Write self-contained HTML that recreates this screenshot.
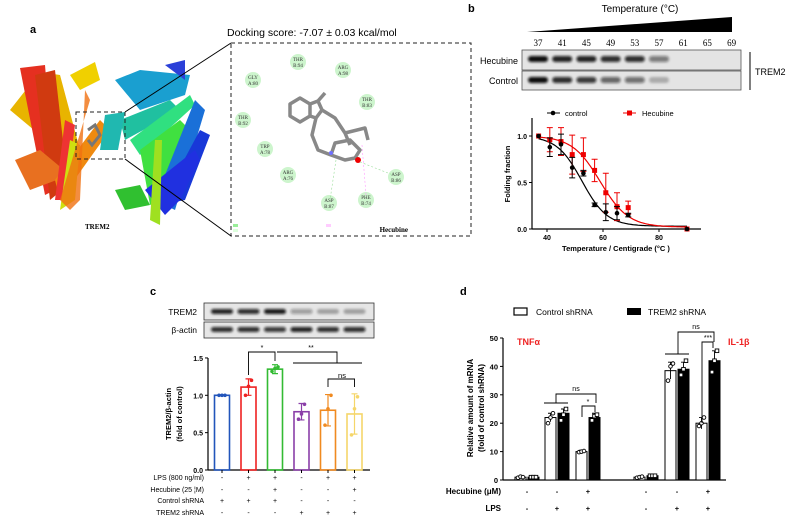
<!DOCTYPE html>
<html><head><meta charset="utf-8"><style>
body{margin:0;background:#fff;width:798px;height:519px;overflow:hidden;font-family:"Liberation Sans",sans-serif}
svg{display:block}
</style></head><body>
<svg id="fig" width="798" height="519" viewBox="0 0 798 519" font-family="Liberation Sans, sans-serif">
<defs>
<filter id="blur"><feGaussianBlur stdDeviation="1.2"/></filter>
</defs>
<g>
<text x="30" y="33" font-size="11" font-weight="bold">a</text>
<g stroke-linejoin="round">
<path d="M10 110 L40 72 L60 75 L80 150 L70 160 Z" fill="#e8b400"/>
<path d="M20 68 L45 65 L55 190 L45 195 Z" fill="#e53020"/>
<path d="M35 75 L55 70 L68 185 L50 200 Z" fill="#d03a10"/>
<path d="M15 160 L40 150 L70 175 L30 190 Z" fill="#e87020"/>
<path d="M55 180 L100 120 L110 130 L60 200 Z" fill="#ef8a10"/>
<path d="M70 75 L95 62 L100 80 L80 90 Z" fill="#f0d000"/>
<path d="M55 200 L65 120 L75 125 L65 200 Z" fill="#e33"/>
<path d="M60 210 L70 140 L80 145 L75 200 Z" fill="#cfe010"/>
<path d="M90 100 L85 90 L80 200 L70 210 L60 200 Z" fill="#f07010" opacity="0.8"/>
<path d="M115 80 L140 70 L190 75 L185 95 L140 110 Z" fill="#1a9fd0"/>
<path d="M120 120 L170 100 L180 110 L125 140 Z" fill="#20c0a0"/>
<path d="M130 140 L190 95 L195 105 L140 155 Z" fill="#30e080"/>
<path d="M140 150 L180 120 L190 130 L160 200 L150 205 Z" fill="#40e040"/>
<path d="M155 200 L195 100 L205 110 L175 210 Z" fill="#1a70d8"/>
<path d="M160 205 L200 130 L210 135 L185 200 Z" fill="#1838d8"/>
<path d="M115 190 L140 185 L150 205 L125 210 Z" fill="#30c030"/>
<path d="M145 190 L165 215 L180 200 L200 160 L195 150 Z" fill="#2030e0"/>
<path d="M150 220 L155 140 L162 140 L160 225 Z" fill="#9fe020"/>
<path d="M105 115 L125 112 L118 150 L100 150 Z" fill="#20b8b0"/>
<path d="M165 65 L185 60 L185 80 Z" fill="#2b40d8"/>
</g>
<g fill="none" stroke="#777" stroke-width="3"><path d="M88 130 L95 125 L100 135 L92 145 L88 140"/></g>
<rect x="76" y="112" width="49" height="47" fill="none" stroke="#222" stroke-dasharray="4,3"/>
<line x1="125" y1="112" x2="231" y2="43" stroke="#000"/>
<line x1="125" y1="159" x2="231" y2="236" stroke="#000"/>
<text x="85" y="229" font-size="7" font-family="Liberation Serif, serif" font-weight="bold">TREM2</text>
<text x="227" y="36" font-size="10.5">Docking score: -7.07 ± 0.03 kcal/mol</text>
<rect x="231" y="43" width="240" height="193" fill="none" stroke="#222" stroke-dasharray="4,3"/>
<g id="residues" font-family="Liberation Serif, serif" font-size="5" fill="#333" text-anchor="middle"></g>
<g fill="none" stroke="#888" stroke-width="3.5" stroke-linejoin="round">
<path d="M290 104 L300 98 L310 104 L310 116 L300 122 L290 116 Z"/>
<path d="M310 104 L318 101 L322 110 L316 118 L310 116"/>
<path d="M318 101 L325 93"/>
<path d="M322 110 L335 118 L345 133 L350 145"/>
<path d="M316 118 L312 135 L318 150 L331 155 L345 160 L355 158 L360 150 L350 140 L335 143 L331 155"/>
<path d="M345 133 L365 128 L368 140"/>
</g>
<circle cx="331" cy="153" r="2" fill="#7070ff"/>
<circle cx="358" cy="160" r="3" fill="#e00"/>
<g stroke-dasharray="2,2" stroke-width="0.6"><line x1="336" y1="160" x2="330" y2="200" stroke="#9d9"/><line x1="362" y1="145" x2="366" y2="195" stroke="#f9f"/><line x1="360" y1="162" x2="393" y2="175" stroke="#9d9"/></g>
<text x="408" y="232" font-size="7" font-family="Liberation Serif, serif" font-weight="bold" text-anchor="end">Hecubine</text>
<rect x="233" y="224" width="5" height="3" fill="#9e9"/><rect x="233" y="229" width="5" height="3" fill="#dfd"/><rect x="326" y="224" width="5" height="3" fill="#fcf"/>
</g>

<g>
<text x="468" y="12" font-size="11" font-weight="bold">b</text>
<text x="640" y="12" font-size="10" text-anchor="middle">Temperature (°C)</text>
<polygon points="527,32 732,17 732,32" fill="#000"/>
<g id="tempLabels" font-family="Liberation Serif, serif" font-size="9" text-anchor="middle"></g>
<rect x="522" y="50" width="219" height="20" fill="#e4e4e4" stroke="#555" stroke-width="0.8"/>
<rect x="522" y="71" width="219" height="19" fill="#e4e4e4" stroke="#555" stroke-width="0.8"/>
<g id="cetsaBands" filter="url(#blur)"></g>
<text x="518" y="64" font-size="9" text-anchor="end">Hecubine</text>
<text x="518" y="84" font-size="9" text-anchor="end">Control</text>
<line x1="750" y1="52" x2="750" y2="90" stroke="#000"/>
<text x="755" y="75" font-size="9">TREM2</text>
<g id="chartB"></g>
</g>

<g>
<text x="150" y="295" font-size="11" font-weight="bold">c</text>
<rect x="204" y="303" width="170" height="17" fill="#e6e6e6" stroke="#333" stroke-width="0.8"/>
<rect x="204" y="322" width="170" height="16" fill="#e6e6e6" stroke="#333" stroke-width="0.8"/>
<g id="cBands" filter="url(#blur)"></g>
<text x="197" y="315" font-size="8.5" text-anchor="end">TREM2</text>
<text x="197" y="333" font-size="8.5" text-anchor="end">β-actin</text>
<g id="chartC"></g>
</g>

<g>
<text x="460" y="295" font-size="11" font-weight="bold">d</text>
<g id="chartD"></g>
</g>
</svg>
<script>
const NS="http://www.w3.org/2000/svg";
function el(tag,attrs,parent,text){const e=document.createElementNS(NS,tag);for(const k in attrs)e.setAttribute(k,attrs[k]);if(text!==undefined)e.textContent=text;parent.appendChild(e);return e;}

const resNames=["THR B:94","ARG A:98","GLY A:80","THR B:83","THR B:92","TRP A:78","ARG A:76","ASP B:86","ASP B:87","PHE B:74"];
const resPos=[[298,62],[343,70],[253,80],[367,102],[243,120],[265,149],[288,175],[396,177],[329,203],[366,200]];
const rg=document.getElementById('residues');
resNames.forEach((n,i)=>{const g=el('g',{},rg);


el('circle',{cx:resPos[i][0],cy:resPos[i][1],r:8,fill:'#cdf5cd'},g);
const p=n.split(' ');el('text',{x:resPos[i][0],y:resPos[i][1]-1},g,p[0]);el('text',{x:resPos[i][0],y:resPos[i][1]+5},g,p[1]);});

const temps=[37,41,45,49,53,57,61,65,69];
const hecBand=[1,0.9,0.9,0.85,0.85,0.5,0,0,0];
const ctlBand=[1,0.85,0.8,0.6,0.55,0.25,0,0,0];
const tl=document.getElementById('tempLabels'),cb=document.getElementById('cetsaBands');
temps.forEach((t,i)=>{const x=538+i*24.2;
const tx=el('text',{x:x,y:46},tl,t);


if(hecBand[i]>0){const b=el('rect',{x:x-10,y:56,width:20,height:6,rx:3,fill:'#111','fill-opacity':hecBand[i]},cb);

}
if(ctlBand[i]>0){const b=el('rect',{x:x-10,y:77,width:20,height:6,rx:3,fill:'#111','fill-opacity':ctlBand[i]},cb);

}
});

const bTemps=[37,41,45,49,53,57,61,65,69,90];
const bControl=[1.0,0.88,0.91,0.66,0.60,0.26,0.18,0.17,0.15,0.0];
const bControlErr=[0,0.1,0.11,0.11,0.03,0.02,0.09,0.07,0.02,0];
const bHec=[1.0,0.96,0.94,0.80,0.80,0.63,0.39,0.24,0.23,0.0];
const bHecErr=[0,0.13,0.15,0.21,0.18,0.12,0.21,0.15,0.07,0];
const bXTicks=[40,60,80];
const bYTicks=[0,0.5,1.0];
const fitControl={top:1.0,bottom:0.03,tm:52.5,slope:4.5};
const fitHec={top:1.0,bottom:0.02,tm:59,slope:5};
const cB=document.getElementById('chartB');
const bx=v=>547+(v-40)*2.8, by=v=>229-v*93;
const bya=el('line',{x1:532,y1:118,x2:532,y2:229,stroke:'#000','stroke-width':1.2},cB);


const bxa=el('line',{x1:532,y1:229,x2:701,y2:229,stroke:'#000','stroke-width':1.2},cB);


bYTicks.forEach(v=>{el('line',{x1:529,x2:532,y1:by(v),y2:by(v),stroke:'#000'},cB);const t=el('text',{x:527,y:by(v)+3,'font-size':7,'font-weight':'bold','text-anchor':'end'},cB,v.toFixed(1));

});
bXTicks.forEach(v=>{el('line',{x1:bx(v),x2:bx(v),y1:229,y2:232,stroke:'#000'},cB);const t=el('text',{x:bx(v),y:240,'font-size':7,'font-weight':'bold','text-anchor':'middle'},cB,v);

});
let yt=el('text',{x:0,y:0,'font-size':7.5,'font-weight':'bold','text-anchor':'middle',transform:'translate(510,174) rotate(-90)'},cB,'Folding fraction');


let xt=el('text',{x:616,y:251,'font-size':7.5,'font-weight':'bold','text-anchor':'middle'},cB,'Temperature / Centigrade (°C )');


function curve(f,color,name){let d='';for(let t=37;t<=90;t+=0.5){const v=f.bottom+(f.top-f.bottom)/(1+Math.exp((t-f.tm)/f.slope));d+=(d?'L':'M')+bx(t).toFixed(1)+' '+by(v).toFixed(1);}
const p=el('path',{d:d,fill:'none',stroke:color,'stroke-width':1.2},cB);

}
curve(fitControl,'#000','fit-control');curve(fitHec,'#e00','fit-hecubine');
function pts(vals,errs,color,shape,name){vals.forEach((v,i)=>{const x=bx(bTemps[i]),y=by(v);
if(errs[i]>0){el('path',{d:`M${x} ${by(v-errs[i])}V${by(v+errs[i])}M${x-3} ${by(v-errs[i])}h6M${x-3} ${by(v+errs[i])}h6`,stroke:color,'stroke-width':1,fill:'none'},cB);}
const m=shape==='c'?el('circle',{cx:x,cy:y,r:2.3,fill:color},cB):el('rect',{x:x-2.5,y:y-2.5,width:5,height:5,fill:color},cB);

});}
pts(bHec,bHecErr,'#e00','s','hecubine');pts(bControl,bControlErr,'#000','c','control');
el('line',{x1:547,x2:560,y1:113,y2:113,stroke:'#000'},cB);el('circle',{cx:553,cy:113,r:2.3},cB);
let l1=el('text',{x:565,y:116,'font-size':7.5},cB,'control');


el('line',{x1:623,x2:636,y1:113,y2:113,stroke:'#e00'},cB);el('rect',{x:627,y:110.5,width:5,height:5,fill:'#e00'},cB);
let l2=el('text',{x:642,y:116,'font-size':7.5},cB,'Hecubine');



const cTrem=[0.9,0.85,0.95,0.35,0.3,0.3];
const cActin=[0.85,0.85,0.8,0.9,0.85,0.85];
const cBandsG=document.getElementById('cBands');
cTrem.forEach((v,i)=>{const x=222+i*26.5;
const b1=el('rect',{x:x-11,y:309,width:22,height:5,rx:2.5,fill:'#111','fill-opacity':v},cBandsG);


const b2=el('rect',{x:x-11,y:327,width:22,height:5,rx:2.5,fill:'#111','fill-opacity':cActin[i]},cBandsG);

});

const cCats=['ctrl','lps','lps-hec','trem2-ctrl','trem2-lps','trem2-lps-hec'];
const cMeans=[1.0,1.11,1.35,0.78,0.80,0.75];
const cErr=[0,0.11,0.06,0.11,0.21,0.27];
const cPts=[[1,1,1],[1.0,1.12,1.2],[1.32,1.36,1.38],[0.68,0.75,0.88],[0.6,0.82,1.0],[0.47,0.82,0.98]];
const cColors=['#2255bb','#e22','#3b3','#8a3fa8','#f08a20','#f5d66a'];
const cYTicks=[0,0.5,1.0,1.5];
const cLPS=['-','+','+','-','+','+'];
const cHec=['-','-','+','-','-','+'];
const cCtl=['+','+','+','-','-','-'];
const cTR=['-','-','-','+','+','+'];
const cC=document.getElementById('chartC');
const cx=i=>222+i*26.5, cy=v=>470-v*74.7;
const cya=el('line',{x1:208,y1:358,x2:208,y2:470,stroke:'#000','stroke-width':1.2},cC);


const cxa=el('line',{x1:208,y1:470,x2:370,y2:470,stroke:'#000','stroke-width':1.2},cC);


cYTicks.forEach(v=>{el('line',{x1:205,x2:208,y1:cy(v),y2:cy(v),stroke:'#000'},cC);const t=el('text',{x:203,y:cy(v)+3,'font-size':7,'font-weight':'bold','text-anchor':'end'},cC,v.toFixed(1));

});
cMeans.forEach((m,i)=>{const x=cx(i);
const r=el('rect',{x:x-7.5,y:cy(m),width:15,height:470-cy(m),fill:'none',stroke:cColors[i],'stroke-width':1.6},cC);


if(cErr[i]>0)el('path',{d:`M${x} ${cy(m-cErr[i])}V${cy(m+cErr[i])}M${x-3} ${cy(m-cErr[i])}h6M${x-3} ${cy(m+cErr[i])}h6`,stroke:cColors[i],'stroke-width':1.2,fill:'none'},cC);
cPts[i].forEach((p,j)=>el('circle',{cx:x+(j-1)*3,cy:cy(p),r:1.8,fill:cColors[i]},cC));
el('line',{x1:x,x2:x,y1:470,y2:473,stroke:'#000'},cC);
[[cLPS,478],[cHec,490],[cCtl,501],[cTR,513]].forEach(([a,y])=>el('text',{x:x,y:y+2,'font-size':7,'text-anchor':'middle'},cC,a[i]));
});
[['LPS (800 ng/ml)',480],['Hecubine (25 ¦M)',492],['Control shRNA',503],['TREM2 shRNA',515]].forEach(([s,y])=>{const t=el('text',{x:204,y:y,'font-size':7,'text-anchor':'end'},cC,s);

});
let cyt=el('text',{'font-size':7.5,'font-weight':'bold','text-anchor':'middle',transform:'translate(171,414) rotate(-90)'},cC,'TREM2/β-actin');


let cyt2=el('text',{'font-size':7.5,'font-weight':'bold','text-anchor':'middle',transform:'translate(182,414) rotate(-90)'},cC,'(fold of control)');


const sig=[`M${cx(1)} 375V352H${cx(2)}V361`,`M${cx(2)+2} 352H337V363`,'M293 363H362',`M${cx(4)} 387V379H${cx(5)}V387`];
sig.forEach(d=>el('path',{d:d,fill:'none',stroke:'#000','stroke-width':0.9},cC));
el('text',{x:262,y:350,'font-size':7,'text-anchor':'middle'},cC,'*');el('text',{x:311,y:350,'font-size':7,'text-anchor':'middle'},cC,'**');el('text',{x:342,y:378,'font-size':7.5,'text-anchor':'middle'},cC,'ns');

const dGroups=['tnf-ctrl','tnf-lps','tnf-lps-hec','il1b-ctrl','il1b-lps','il1b-lps-hec'];
const dControl=[1,22,10,1,38.5,20];
const dTrem=[1,23.5,22,1.5,39,42];
const dCtrlErr=[0.3,1.5,0.5,0.3,3,2];
const dTremErr=[0.3,1.5,1.5,0.3,2.5,3.5];
const dCtrlPts=[[0.8,1.2,1],[20,22,23.5],[9.8,10,10.2],[0.8,1,1.2],[35,40,41],[19,20,22]];
const dTremPts=[[1,1,1],[21,23,25],[21,22.5,23],[1.5,1.5,1.5],[37,39,42],[38,42,45.5]];
const dYTicks=[0,10,20,30,40,50];
const dHec=['-','-','+','-','-','+'];
const dLPS=['-','+','+','-','+','+'];
const cD=document.getElementById('chartD');
const dxs=[527,557,588,646,677,708];
const dy=v=>480-v*2.84;
const dya=el('line',{x1:503,y1:338,x2:503,y2:480,stroke:'#000','stroke-width':1.2},cD);


const dxa=el('line',{x1:503,y1:480,x2:726,y2:480,stroke:'#000','stroke-width':1.2},cD);


dYTicks.forEach(v=>{el('line',{x1:500,x2:503,y1:dy(v),y2:dy(v),stroke:'#000'},cD);const t=el('text',{x:498,y:dy(v)+3,'font-size':7.5,'font-weight':'bold','text-anchor':'end'},cD,v);

});
dGroups.forEach((g,i)=>{const c=dxs[i];
[[dControl,dCtrlErr,dCtrlPts,-6.5,'#fff','control'],[dTrem,dTremErr,dTremPts,6.5,'#000','trem2']].forEach(([vals,errs,ps,off,fill,nm])=>{
const x=c+off,v=vals[i];
const r=el('rect',{x:x-5.5,y:dy(v),width:11,height:480-dy(v),fill:fill,stroke:'#000','stroke-width':1},cD);


el('path',{d:`M${x} ${dy(v-errs[i])}V${dy(v+errs[i])}M${x-2.5} ${dy(v+errs[i])}h5`,stroke:'#000','stroke-width':0.9,fill:'none'},cD);
ps[i].forEach((p,j)=>{if(nm==='control')el('circle',{cx:x+(j-1)*2.5,cy:dy(p),r:1.8,fill:'#fff',stroke:'#000','stroke-width':0.9},cD);else el('rect',{x:x+(j-1)*2.5-1.8,y:dy(p)-1.8,width:3.6,height:3.6,fill:'#fff',stroke:'#000','stroke-width':0.9},cD);});
});
el('text',{x:c,y:494,'font-size':7.5,'font-weight':'bold','text-anchor':'middle'},cD,dHec[i]);
el('text',{x:c,y:511,'font-size':7.5,'font-weight':'bold','text-anchor':'middle'},cD,dLPS[i]);
});
let h=el('text',{x:501,y:494,'font-size':8,'font-weight':'bold','text-anchor':'end'},cD,'Hecubine  (μM)');


let lp=el('text',{x:501,y:511,'font-size':8,'font-weight':'bold','text-anchor':'end'},cD,'LPS');


let dyt=el('text',{'font-size':8,'font-weight':'bold','text-anchor':'middle',transform:'translate(473,408) rotate(-90)'},cD,'Relative amount of mRNA');


let dyt2=el('text',{'font-size':8,'font-weight':'bold','text-anchor':'middle',transform:'translate(484,408) rotate(-90)'},cD,'(fold of control shRNA)');


let t1=el('text',{x:517,y:345,'font-size':9,'font-weight':'bold',fill:'#e22'},cD,'TNFα');


let t2=el('text',{x:728,y:345,'font-size':9,'font-weight':'bold',fill:'#e22'},cD,'IL-1β');


const sw1=el('rect',{x:514,y:308,width:13,height:7,fill:'#fff',stroke:'#000','stroke-width':1.2},cD);


let lg1=el('text',{x:536,y:315,'font-size':8.5},cD,'Control shRNA');


const sw2=el('rect',{x:627,y:308,width:14,height:7,fill:'#000'},cD);


let lg2=el('text',{x:648,y:315,'font-size':8.5},cD,'TREM2 shRNA');


const dSig=['M556 403V394H596V403','M544 403H568','M582 417V406H595V412','M678 354V332H714V342','M665 354H689','M702 423V342H713V348'];
dSig.forEach(d=>el('path',{d:d,fill:'none',stroke:'#000','stroke-width':0.9},cD));
el('text',{x:576,y:391,'font-size':7,'text-anchor':'middle'},cD,'ns');el('text',{x:588,y:404,'font-size':7,'text-anchor':'middle'},cD,'*');
el('text',{x:696,y:329,'font-size':7,'text-anchor':'middle'},cD,'ns');el('text',{x:708,y:340,'font-size':7,'text-anchor':'middle'},cD,'***');
</script>
</body></html>
